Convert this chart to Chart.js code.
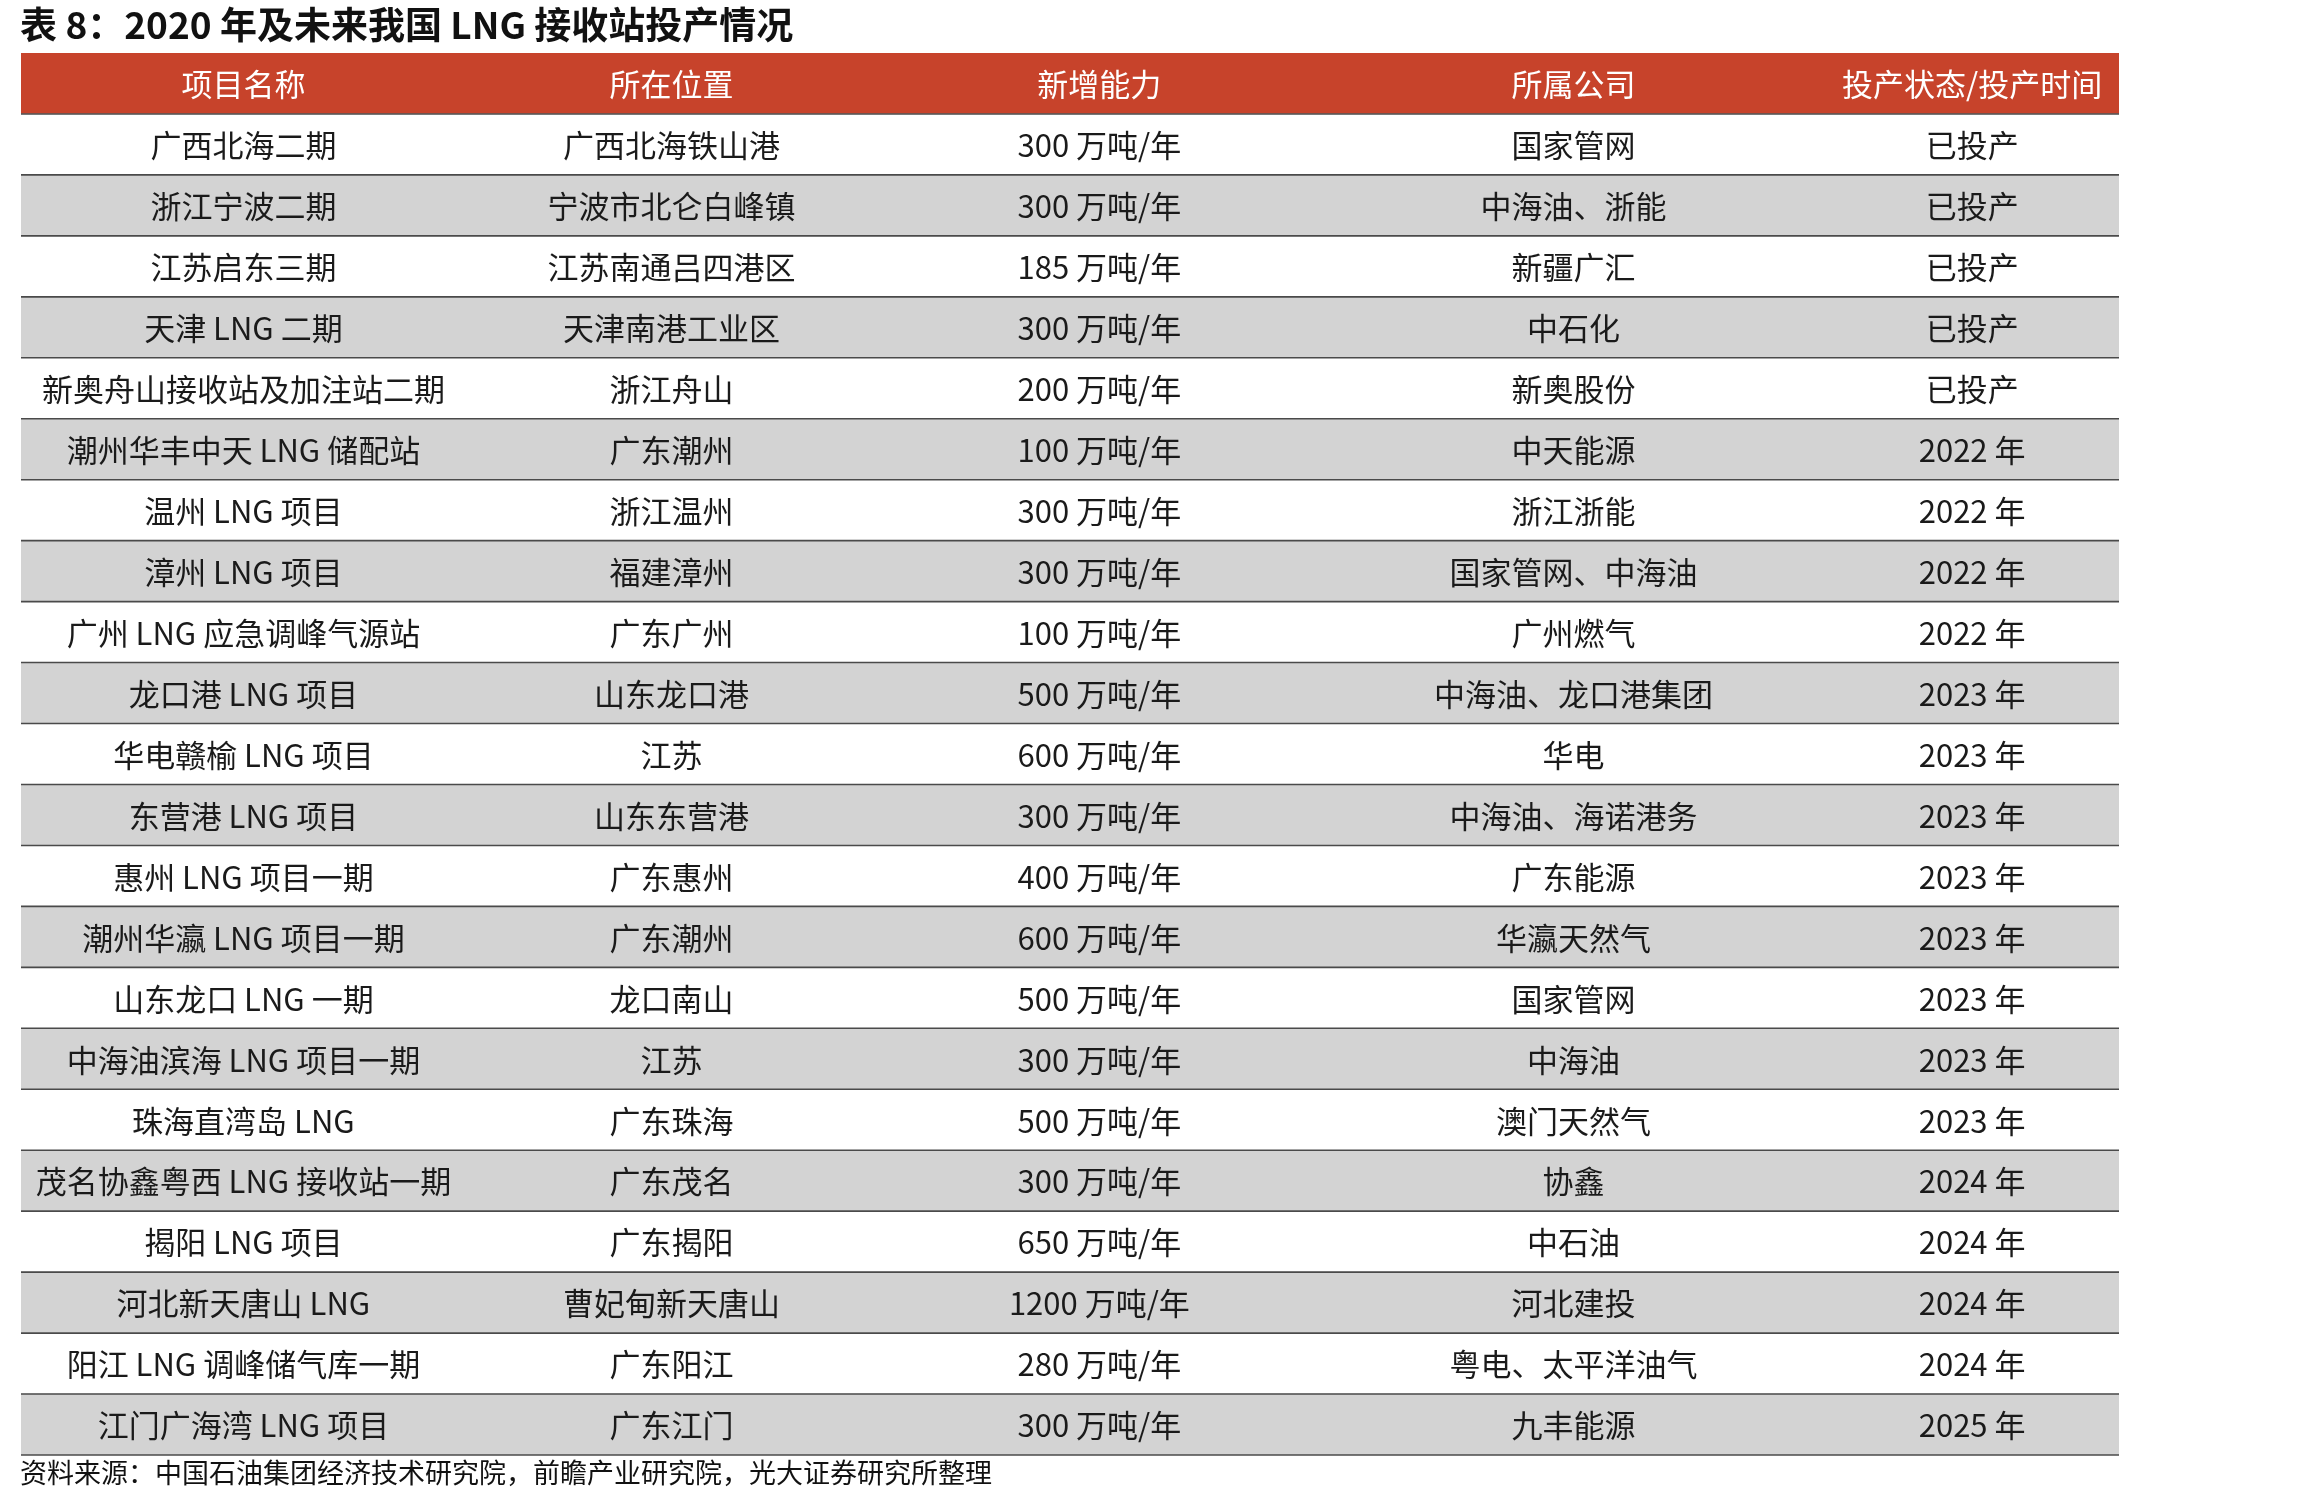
<!DOCTYPE html>
<html lang="zh">
<head>
<meta charset="UTF-8">
<title>2020 年及未来我国 LNG 接收站投产情况</title>
<script src="https://cdn.jsdelivr.net/npm/chart.js"></script>
<style>
  html, body { margin: 0; padding: 0; background: #fff; }
  #wrap { width: 2303px; height: 1504px; }
</style>
</head>
<body>
<div id="wrap"><canvas id="tabla"></canvas></div>
<script>
// ======= Datos =======
const titulo = '表 8：2020 年及未来我国 LNG 接收站投产情况';
const fuente = '资料来源：中国石油集团经济技术研究院，前瞻产业研究院，光大证券研究所整理';
const encabezados = ['项目名称', '所在位置', '新增能力', '所属公司', '投产状态/投产时间'];
const proyectos = ['广西北海二期', '浙江宁波二期', '江苏启东三期', '天津 LNG 二期', '新奥舟山接收站及加注站二期',
  '潮州华丰中天 LNG 储配站', '温州 LNG 项目', '漳州 LNG 项目', '广州 LNG 应急调峰气源站', '龙口港 LNG 项目',
  '华电赣榆 LNG 项目', '东营港 LNG 项目', '惠州 LNG 项目一期', '潮州华瀛 LNG 项目一期', '山东龙口 LNG 一期',
  '中海油滨海 LNG 项目一期', '珠海直湾岛 LNG', '茂名协鑫粤西 LNG 接收站一期', '揭阳 LNG 项目', '河北新天唐山 LNG',
  '阳江 LNG 调峰储气库一期', '江门广海湾 LNG 项目'];
const ubicaciones = ['广西北海铁山港', '宁波市北仑白峰镇', '江苏南通吕四港区', '天津南港工业区', '浙江舟山',
  '广东潮州', '浙江温州', '福建漳州', '广东广州', '山东龙口港', '江苏', '山东东营港', '广东惠州', '广东潮州',
  '龙口南山', '江苏', '广东珠海', '广东茂名', '广东揭阳', '曹妃甸新天唐山', '广东阳江', '广东江门'];
const capacidad = [300, 300, 185, 300, 200, 100, 300, 300, 100, 500, 600, 300, 400, 600, 500, 300, 500, 300, 650, 1200, 280, 300];
const empresas = ['国家管网', '中海油、浙能', '新疆广汇', '中石化', '新奥股份', '中天能源', '浙江浙能', '国家管网、中海油',
  '广州燃气', '中海油、龙口港集团', '华电', '中海油、海诺港务', '广东能源', '华瀛天然气', '国家管网', '中海油',
  '澳门天然气', '协鑫', '中石油', '河北建投', '粤电、太平洋油气', '九丰能源'];
const estados = ['已投产', '已投产', '已投产', '已投产', '已投产', '2022 年', '2022 年', '2022 年', '2022 年',
  '2023 年', '2023 年', '2023 年', '2023 年', '2023 年', '2023 年', '2023 年', '2023 年', '2024 年', '2024 年',
  '2024 年', '2024 年', '2025 年'];

// ======= Configuración =======
const FUENTE = '"Noto Sans CJK SC", "Noto Sans", sans-serif';
const centrosCol = [0.106, 0.31, 0.514, 0.74, 0.93];
const filas = ['encabezado', ...proyectos];
const colorFila = filas.map((f, i) => i === 0 ? '#c7432b' : (i % 2 === 0 ? '#d3d3d3' : '#ffffff'));

function celdas(i) {
  if (i === 0) return encabezados;
  const k = i - 1;
  return [proyectos[k], ubicaciones[k], capacidad[k] + ' 万吨/年', empresas[k], estados[k]];
}

const textoTabla = {
  id: 'textoTabla',
  afterDatasetsDraw(chart) {
    const ctx = chart.ctx;
    const y = chart.scales.y, x = chart.scales.x;
    const alto = Math.abs(y.getPixelForValue(1) - y.getPixelForValue(0));
    ctx.save();
    // líneas de fila
    ctx.strokeStyle = '#4a4a4a';
    ctx.lineWidth = 1.6;
    filas.forEach((f, i) => {
      const yb = y.getPixelForValue(i) + alto / 2;
      ctx.beginPath();
      ctx.moveTo(x.left, yb);
      ctx.lineTo(x.right, yb);
      ctx.stroke();
    });
    // texto de celdas
    ctx.textAlign = 'center';
    ctx.textBaseline = 'middle';
    filas.forEach((f, i) => {
      ctx.fillStyle = i === 0 ? '#ffffff' : '#1a1a1a';
      ctx.font = '31px ' + FUENTE;
      celdas(i).forEach((t, c) => ctx.fillText(t, x.getPixelForValue(centrosCol[c]), y.getPixelForValue(i) + 1));
    });
    // título y fuente
    ctx.textAlign = 'left';
    ctx.fillStyle = '#111';
    ctx.font = 'bold 37px ' + FUENTE;
    ctx.fillText(titulo, 20, 25);
    ctx.font = '27px ' + FUENTE;
    ctx.fillText(fuente, 20, y.getPixelForValue(filas.length - 1) + alto / 2 + 18);
    ctx.restore();
  }
};

new Chart(document.getElementById('tabla'), {
  type: 'bar',
  data: {
    labels: filas,
    datasets: [{
      data: filas.map(() => [0, 1]),
      backgroundColor: colorFila,
      borderWidth: 0,
      barPercentage: 1,
      categoryPercentage: 1
    }]
  },
  options: {
    indexAxis: 'y',
    responsive: true,
    maintainAspectRatio: false,
    animation: false,
    layout: { padding: { top: 53, bottom: 49, left: 21, right: 184 } },
    plugins: { legend: { display: false }, tooltip: { enabled: false } },
    scales: {
      x: { type: 'linear', min: 0, max: 1, display: false },
      y: { display: false }
    }
  },
  plugins: [textoTabla]
});
</script>
</body>
</html>
